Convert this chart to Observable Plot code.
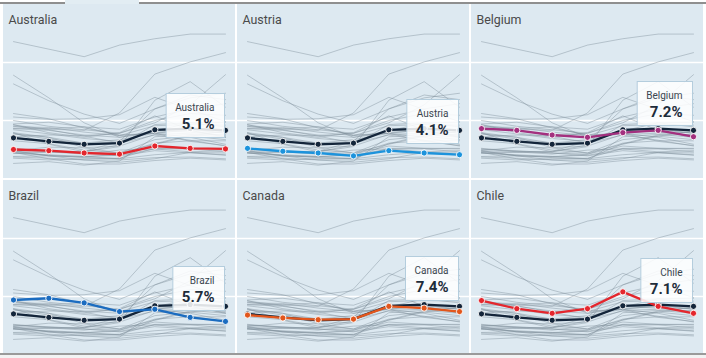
<!DOCTYPE html>
<html>
<head>
<meta charset="utf-8">
<script src="https://cdn.jsdelivr.net/npm/d3@7"></script>
<script src="https://cdn.jsdelivr.net/npm/@observablehq/plot@0.6"></script>
<style>
  html, body { margin: 0; padding: 0; background: #fff; }
  #wrap { position: relative; width: 706px; height: 358px; overflow: hidden; background: #fff; font-family: Roboto, "Noto Sans", sans-serif; }
  .bar { position: absolute; }
</style>
</head>
<body>
<div id="wrap"></div>
<script>
// ---------- data ----------
const years = [2005, 2006, 2007, 2008, 2009, 2010, 2011];

const countries = [
  "South Africa", "Spain", "Poland", "Slovakia", "Greece", "Ireland", "Estonia", "Turkey",
  "Germany", "Portugal", "Hungary", "France", "Italy", "Finland", "Sweden", "Czech Republic",
  "Slovenia", "Israel", "United States", "Britain", "Denmark", "Iceland", "New Zealand", "Japan",
  "Luxembourg", "Netherlands", "Switzerland", "South Korea", "Norway", "Mexico",
  "Australia", "Austria", "Belgium", "Brazil", "Canada", "Chile"
];

const rates = [
  [23.6, 22.3, 21.0, 23.0, 24.1, 24.9, 24.9],
  [9.2, 8.5, 8.3, 11.3, 18.0, 20.1, 21.7],
  [17.8, 13.9, 9.6, 7.1, 8.2, 9.6, 9.7],
  [16.3, 13.4, 11.1, 9.5, 12.0, 14.4, 13.6],
  [10.0, 9.0, 8.4, 7.8, 9.6, 12.7, 17.9],
  [4.4, 4.5, 4.7, 6.4, 12.0, 13.9, 14.7],
  [7.9, 5.9, 4.6, 5.5, 13.5, 16.7, 12.3],
  [10.6, 10.2, 10.3, 11.0, 14.0, 11.9, 9.8],
  [11.2, 10.3, 8.7, 7.5, 7.8, 7.1, 5.9],
  [8.6, 8.6, 8.9, 8.5, 10.6, 12.0, 12.9],
  [7.2, 7.5, 7.4, 7.8, 10.0, 11.2, 10.9],
  [8.9, 8.8, 8.0, 7.4, 9.1, 9.3, 9.2],
  [7.7, 6.8, 6.1, 6.7, 7.8, 8.4, 8.4],
  [8.4, 7.7, 6.9, 6.4, 8.2, 8.4, 7.8],
  [7.7, 7.1, 6.1, 6.2, 8.3, 8.6, 7.8],
  [7.9, 7.1, 5.3, 4.4, 6.7, 7.3, 6.7],
  [6.5, 6.0, 4.9, 4.4, 5.9, 7.3, 8.2],
  [9.0, 8.4, 7.3, 6.1, 7.5, 6.6, 5.6],
  [5.1, 4.6, 4.6, 5.8, 9.3, 9.6, 8.9],
  [4.8, 5.4, 5.3, 5.6, 7.6, 7.8, 8.0],
  [4.8, 3.9, 3.8, 3.4, 6.0, 7.5, 7.6],
  [2.6, 2.9, 2.3, 3.0, 7.2, 7.6, 7.1],
  [3.8, 3.9, 3.7, 4.2, 6.1, 6.5, 6.5],
  [4.4, 4.1, 3.8, 4.0, 5.1, 5.1, 4.6],
  [4.6, 4.6, 4.2, 4.9, 5.1, 4.6, 4.8],
  [4.7, 3.9, 3.2, 2.8, 3.4, 4.5, 4.4],
  [4.4, 4.0, 3.6, 3.4, 4.1, 4.5, 4.0],
  [3.7, 3.5, 3.2, 3.2, 3.6, 3.7, 3.4],
  [4.5, 3.4, 2.5, 2.5, 3.1, 3.5, 3.2],
  [3.5, 3.2, 3.4, 3.5, 5.2, 5.2, 5.2],
  [5.0, 4.8, 4.4, 4.2, 5.6, 5.2, 5.1],
  [5.2, 4.7, 4.4, 3.9, 4.8, 4.4, 4.1],
  [8.6, 8.3, 7.5, 7.1, 7.9, 8.3, 7.2],
  [9.4, 9.7, 8.9, 7.4, 7.8, 6.4, 5.7],
  [6.8, 6.3, 6.0, 6.1, 8.3, 8.0, 7.4],
  [9.3, 7.9, 7.1, 7.9, 10.8, 8.3, 7.1]
];

const oecdAverage = [7.0, 6.4, 5.9, 6.1, 8.4, 8.6, 8.3];

const panelCountries = ["Australia", "Austria", "Belgium", "Brazil", "Canada", "Chile"];
const panelLabels = ["5.1%", "4.1%", "7.2%", "5.7%", "7.4%", "7.1%"];

// ---------- styles ----------
const highlightColors = {
  Australia: "#e3262d", Austria: "#1c93dc", Belgium: "#a3307f",
  Brazil: "#1b6cc0", Canada: "#e2561c", Chile: "#e4262d"
};
const BG = "#dde9f1";
const NAVY = "#13253a";
const FONT = "Roboto, 'Noto Sans', sans-serif";

// ---------- tidy tables ----------
const grayData = countries.flatMap((c, i) => years.map((year, j) => ({country: c, year, value: rates[i][j]})));
const oecdData = years.map((year, j) => ({year, value: oecdAverage[j]}));

const ctx = document.createElement("canvas").getContext("2d");
function textWidth(s, font) { ctx.font = font; return ctx.measureText(s).width; }

function latestLabel(name, label, series) {
  return (index, scales) => {
    const last = series[series.length - 1];
    const px = scales.x(last.year), py = scales.y(last.value);
    const w = Math.max(textWidth(name, "10px Roboto"), textWidth(label, "bold 15px Roboto")) + 19;
    const right = Math.round(px) - 0.5, top = Math.round(py - 55) + 0.5;
    const g = d3.create("svg:g");
    g.append("rect")
      .attr("x", right - w).attr("y", top).attr("width", w).attr("height", 44)
      .attr("fill", "white").attr("fill-opacity", 0.86)
      .attr("stroke", "#b4cddd").attr("stroke-width", 1);
    g.append("text")
      .attr("x", right - 10).attr("y", top + 17.5).attr("text-anchor", "end")
      .attr("font-family", FONT).attr("font-size", 10).attr("fill", "#3a4650")
      .text(name);
    g.append("text")
      .attr("x", right - 10).attr("y", top + 35).attr("text-anchor", "end")
      .attr("font-family", FONT).attr("font-size", 15).attr("font-weight", "bold").attr("fill", "#1d2c3a")
      .text(label);
    return g.node();
  };
}

// ---------- frame ----------
const wrap = document.getElementById("wrap");
function bar(x, y, w, h, color) {
  const d = document.createElement("div");
  d.className = "bar";
  Object.assign(d.style, {left: x + "px", top: y + "px", width: w + "px", height: h + "px", background: color});
  wrap.appendChild(d);
}
bar(0, 2, 65, 1.5, "#8f8f8f");
bar(139, 2, 567, 1.5, "#8f8f8f");
bar(65, 0, 74, 4, "#e2edf3");
bar(0, 355, 706, 3, "#f3f3f3");

const colX = [3, 237, 471];
const rowY = [4, 180];
const PW = 232, PH = 174;

panelCountries.forEach((name, i) => {
  const col = i % 3, row = Math.floor(i / 3);
  const ci = countries.indexOf(name);
  const own = years.map((year, j) => ({year, value: rates[ci][j]}));
  const color = highlightColors[name];
  const chart = Plot.plot({
    width: PW, height: PH, margin: 0,
    x: {domain: [2005, 2011], inset: 10, axis: null},
    y: {domain: [0, 30], axis: null},
    style: {background: BG, fontFamily: FONT, overflow: "visible"},
    marks: [
      Plot.ruleY([10, 20], {stroke: "white", strokeWidth: 1.5}),
      Plot.text([name], {text: d => d, frameAnchor: "top-left", dx: 5, dy: 16, textAnchor: "start",
        lineAnchor: "middle", fontSize: 12.4, fill: "#4a4a4a"}),
      Plot.line(grayData, {x: "year", y: "value", z: "country", stroke: "#7a8b96",
        strokeWidth: 0.85, strokeOpacity: 0.5}),
      Plot.line(oecdData, {x: "year", y: "value", stroke: NAVY, strokeWidth: 2.3}),
      Plot.dot(oecdData, {x: "year", y: "value", r: 3.1, fill: NAVY, stroke: "white", strokeWidth: 0.9}),
      Plot.line(own, {x: "year", y: "value", stroke: color, strokeWidth: 2.3}),
      Plot.dot(own, {x: "year", y: "value", r: 3.1, fill: color, stroke: "white", strokeWidth: 0.9}),
      latestLabel(name, panelLabels[i], own)
    ]
  });
  Object.assign(chart.style, {position: "absolute", left: colX[col] + "px", top: rowY[row] + "px"});
  wrap.appendChild(chart);
});

bar(0, 353, 706, 2, "#9a9a9a");
</script>
</body>
</html>
